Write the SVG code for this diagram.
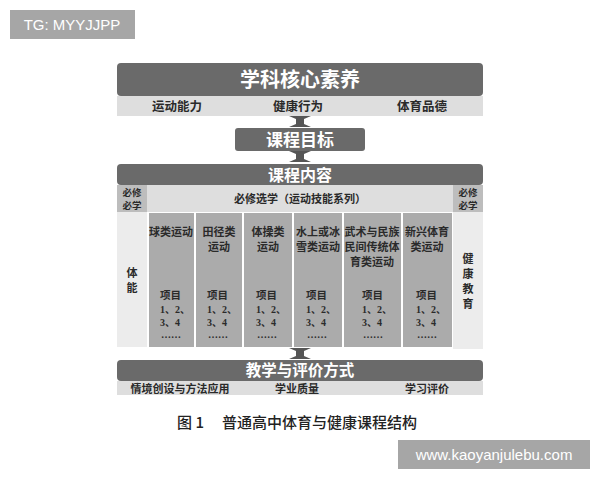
<svg xmlns="http://www.w3.org/2000/svg" width="600" height="480" viewBox="0 0 600 480">
<defs>
<style>
.dark{fill:#6a6a6a}
.light{fill:#dedede}
.side{fill:#ececec}
.col{fill:#ababab}
.head{fill:#bdbdbd}
.wt{font-family:"Noto Sans CJK SC","Noto Sans",sans-serif;font-weight:bold;fill:#fff;text-anchor:middle}
.bt{font-family:"Noto Sans CJK SC","Noto Sans",sans-serif;font-weight:bold;fill:#2a2a2a;text-anchor:middle}
.ct{font-family:"Noto Sans CJK SC","Noto Sans",sans-serif;font-weight:bold;fill:#2a2a2a;text-anchor:middle;font-size:11px}
.st{font-family:"Noto Sans CJK SC","Noto Sans",sans-serif;font-weight:bold;fill:#2a2a2a;text-anchor:middle;font-size:9.5px}
.it{font-family:"Noto Sans CJK SC","Noto Sans",sans-serif;font-weight:bold;fill:#2a2a2a;font-size:10.5px}
.nt{font-family:"Liberation Serif","Noto Sans CJK SC",serif;font-weight:bold;fill:#2a2a2a;font-size:10px}
.arr{fill:#555}
.wm{fill:#a6a6a6}
.wmt{font-family:"Liberation Sans",Arial,sans-serif;fill:#fff;font-size:15px}
</style>
<polygon id="dbl" points="-11,0 11,0 4,3 4,8 11,11 -11,11 -4,8 -4,3"/>
</defs>
<rect width="600" height="480" fill="#fff"/>
<g id="watermark-tl"><rect class="wm" x="10" y="10" width="125" height="29"/><text class="wmt" x="72" y="30" text-anchor="middle">TG: MYYJJPP</text></g>
<g id="watermark-br"><rect class="wm" x="398" y="440" width="192" height="29"/><text class="wmt" x="494" y="460" text-anchor="middle">www.kaoyanjulebu.com</text></g>

<g id="core">
<rect class="dark" x="117" y="63" width="366" height="33" rx="4"/>
<text class="wt" x="300" y="87" font-size="20">学科核心素养</text>
<rect class="light" x="117" y="96" width="366" height="20"/>
<text class="bt" x="177" y="111" font-size="12.5">运动能力</text>
<text class="bt" x="298" y="111" font-size="12.5">健康行为</text>
<text class="bt" x="422" y="111" font-size="12.5">体育品德</text>
</g>

<g id="connectors">
<use href="#dbl" class="arr" x="300" y="116"/>
<use href="#dbl" class="arr" x="300" y="151"/>
<use href="#dbl" class="arr" x="300" y="348"/>
</g>

<g id="goal">
<rect class="dark" x="235" y="128" width="130" height="23" rx="3"/>
<text class="wt" x="300" y="146" font-size="17">课程目标</text>
</g>

<g id="content">
<rect class="dark" x="117" y="164" width="366" height="21" rx="4"/>
<text class="wt" x="300" y="181" font-size="16">课程内容</text>
<rect class="head" x="117" y="185" width="30" height="27"/>
<text class="st" x="132" y="196">必修</text>
<text class="st" x="132" y="209">必学</text>
<rect class="light" x="147" y="185" width="306" height="27"/>
<text class="ct" x="300" y="203">必修选学（运动技能系列）</text>
<rect class="head" x="453" y="185" width="30" height="27"/>
<text class="st" x="468" y="196">必修</text>
<text class="st" x="468" y="209">必学</text>
</g>

<g id="tineng">
<rect class="side" x="117" y="212" width="30" height="135"/>
<text class="ct" x="132" y="277">体</text>
<text class="ct" x="132" y="292">能</text>
</g>

<g id="col1">
<rect class="col" x="149" y="213" width="45" height="134"/>
<text class="ct" x="171" y="236">球类运动</text>
<text class="it" x="160" y="299">项目</text><text class="nt" x="160" y="313">1、2、</text><text class="nt" x="160" y="326">3、4</text><text class="nt" x="161" y="338">……</text>
</g>
<g id="col2">
<rect class="col" x="196" y="213" width="46" height="134"/>
<text class="ct" x="219" y="236">田径类</text><text class="ct" x="219" y="251">运动</text>
<text class="it" x="207" y="299">项目</text><text class="nt" x="207" y="313">1、2、</text><text class="nt" x="207" y="326">3、4</text><text class="nt" x="208" y="338">……</text>
</g>
<g id="col3">
<rect class="col" x="244" y="213" width="48" height="134"/>
<text class="ct" x="268" y="236">体操类</text><text class="ct" x="268" y="251">运动</text>
<text class="it" x="256" y="299">项目</text><text class="nt" x="256" y="313">1、2、</text><text class="nt" x="256" y="326">3、4</text><text class="nt" x="257" y="338">……</text>
</g>
<g id="col4">
<rect class="col" x="294" y="213" width="48" height="134"/>
<text class="ct" x="318" y="236">水上或冰</text><text class="ct" x="318" y="251">雪类运动</text>
<text class="it" x="306" y="299">项目</text><text class="nt" x="306" y="313">1、2、</text><text class="nt" x="306" y="326">3、4</text><text class="nt" x="307" y="338">……</text>
</g>
<g id="col5">
<rect class="col" x="344" y="213" width="57" height="134"/>
<text class="ct" x="372" y="236" font-size="10.5">武术与民族</text><text class="ct" x="372" y="251" font-size="10.5">民间传统体</text><text class="ct" x="372" y="266" font-size="10.5">育类运动</text>
<text class="it" x="362" y="299">项目</text><text class="nt" x="362" y="313">1、2、</text><text class="nt" x="362" y="326">3、4</text><text class="nt" x="363" y="338">……</text>
</g>
<g id="col6">
<rect class="col" x="403" y="213" width="49" height="134"/>
<text class="ct" x="427" y="236">新兴体育</text><text class="ct" x="427" y="251">类运动</text>
<text class="it" x="416" y="299">项目</text><text class="nt" x="416" y="313">1、2、</text><text class="nt" x="416" y="326">3、4</text><text class="nt" x="417" y="338">……</text>
</g>

<g id="health">
<rect class="side" x="453" y="212" width="30" height="137"/>
<text class="ct" x="468" y="263">健</text>
<text class="ct" x="468" y="278">康</text>
<text class="ct" x="468" y="293">教</text>
<text class="ct" x="468" y="308">育</text>
</g>

<g id="teaching">
<rect class="dark" x="117" y="360" width="366" height="21" rx="4"/>
<text class="wt" x="300" y="376" font-size="15.5">教学与评价方式</text>
<rect class="light" x="117" y="381" width="366" height="14"/>
<text class="ct" x="180" y="393">情境创设与方法应用</text>
<text class="ct" x="297" y="393">学业质量</text>
<text class="ct" x="427" y="393">学习评价</text>
</g>

<g id="caption">
<text x="177" y="428" font-family="'Noto Sans CJK SC','Noto Sans',sans-serif" font-size="15" font-weight="500" fill="#222">图 1</text>
<text x="222" y="428" font-family="'Noto Sans CJK SC','Noto Sans',sans-serif" font-size="15" font-weight="500" fill="#222">普通高中体育与健康课程结构</text>
</g>
</svg>
